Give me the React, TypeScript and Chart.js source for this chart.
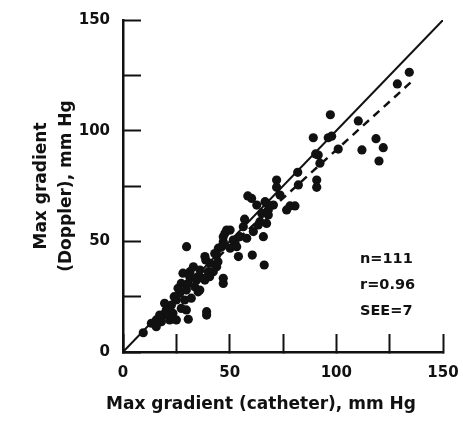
import React, { useEffect, useRef } from "react";
import { Chart, registerables } from "chart.js";

Chart.register(...registerables);

const catheter = [134.2,128.6,110.3,118.6,122.0,112.0,120.0,97.2,89.2,96.2,
97.8,100.9,91.5,92.3,90.3,81.9,90.8,90.8,82.2,72.0,
72.0,73.6,66.6,80.6,78.3,76.7,60.3,62.7,67.3,68.1,
70.5,65.0,64.2,63.4,61.1,56.4,50.2,47.8,54.8,52.5,
47.0,46.3,50.2,44.7,43.9,54.1,65.8,60.6,66.2,38.4,
29.8,47.0,47.0,68.1,67.3,48.6,47.0,51.7,58.0,53.3,
40.8,36.1,40.0,33.0,31.4,42.3,34.5,38.4,28.1,44.5,
27.3,30.5,35.2,37.5,40.6,29.7,26.6,25.0,28.9,32.0,
22.7,20.3,27.3,29.7,18.8,23.4,25.0,21.9,18.0,15.6,
17.2,15.6,13.3,22.7,19.5,25.8,31.3,33.6,36.0,39.2,
39.2,30.6,9.5,38.8,43.9,58.5,24.0,21.0,35.0,43.0,57.0];

const doppler = [126.4,121.1,104.4,96.4,92.3,91.3,86.3,107.2,96.8,96.8,
97.5,91.7,89.0,85.3,89.5,81.2,77.7,74.4,75.5,77.7,
74.4,70.9,67.9,66.0,66.0,64.2,69.4,66.4,67.2,64.2,
66.4,62.7,58.9,57.4,54.4,56.6,55.1,53.6,52.1,49.8,
49.8,47.6,46.9,46.9,43.8,43.1,52.1,43.8,39.3,43.1,
47.6,33.3,31.0,61.9,58.1,55.1,52.1,50.6,51.4,47.6,
40.1,37.0,36.3,38.5,36.3,36.3,32.5,32.5,35.6,40.8,
31.0,31.0,27.2,33.3,34.0,28.0,26.5,23.5,23.5,24.3,
21.2,19.0,19.7,19.0,16.7,17.5,14.5,14.5,13.7,14.5,
16.7,11.4,13.0,16.0,22.0,28.8,34.0,29.5,28.0,18.2,
16.7,14.8,8.7,41.6,38.5,70.5,25.0,18.5,34.0,44.5,60.0];

const identityX = [0, 150];
const identityY = [0, 150];
const regressionX = [25, 135];
const regressionY = [25.8, 121.9];

const statsLines = ["n=111", "r=0.96", "SEE=7"];
const xTitle = "Max gradient (catheter), mm Hg";
const yTitle = ["Max gradient", "(Doppler), mm Hg"];
const axisMin = 0;
const axisMax = 150;
const tickStep = 25;
const labelStep = 50;

const FONT = "'DejaVu Sans', sans-serif";

const textPlugin = {
  id: "textPlugin",
  afterDraw(chart: any) {
    const ctx = chart.ctx;
    const area = chart.chartArea;
    ctx.save();
    ctx.fillStyle = "#111";
    ctx.font = `bold 14.5px ${FONT}`;
    ctx.textAlign = "left";
    ctx.textBaseline = "middle";
    statsLines.forEach((t, i) => {
      ctx.fillText(t, area.left + 237, area.top + 239 + i * 26);
    });
    ctx.font = `bold 17px ${FONT}`;
    ctx.textAlign = "center";
    ctx.fillText(xTitle, area.left + 138, area.bottom + 53);
    ctx.restore();
  },
};

const zeroPad = (s: any) => {
  s.paddingLeft = 0;
  s.paddingRight = 0;
  s.paddingTop = 0;
  s.paddingBottom = 0;
};

export default function App() {
  const ref = useRef<HTMLCanvasElement | null>(null);
  useEffect(() => {
    if (!ref.current) return;
    const points = catheter.map((x, i) => ({ x, y: doppler[i] }));
    const ident = identityX.map((x, i) => ({ x, y: identityY[i] }));
    const reg = regressionX.map((x, i) => ({ x, y: regressionY[i] }));
    const tickCb = (v: any) => (Number(v) % labelStep === 0 ? String(v) : "");
    const chart = new Chart(ref.current, {
      type: "scatter",
      data: {
        datasets: [
          {
            label: "Patients",
            data: points,
            backgroundColor: "#111",
            borderColor: "#111",
            borderWidth: 0,
            pointRadius: 4.6,
          },
          {
            label: "Identity",
            data: ident,
            showLine: true,
            pointRadius: 0,
            borderColor: "#111",
            borderWidth: 2,
          },
          {
            label: "Regression",
            data: reg,
            showLine: true,
            pointRadius: 0,
            borderColor: "#111",
            borderWidth: 2.5,
            borderDash: [8, 6],
          },
        ],
      },
      options: {
        responsive: false,
        animation: false,
        devicePixelRatio: 1,
        layout: { padding: { left: 0, right: 20, top: 20, bottom: 0 } },
        plugins: { legend: { display: false }, tooltip: { enabled: false } },
        scales: {
          x: {
            type: "linear",
            min: axisMin,
            max: axisMax,
            afterFit: (s: any) => { s.height = 84; zeroPad(s); },
            ticks: {
              stepSize: tickStep,
              callback: tickCb,
              color: "#111",
              font: { family: FONT, size: 15, weight: "bold" },
              padding: 30,
              maxRotation: 0,
              autoSkip: false,
            },
            grid: {
              drawOnChartArea: false,
              drawTicks: true,
              tickLength: -18,
              tickColor: "#111",
              tickWidth: 2,
            },
            border: { display: true, color: "#111", width: 2.5 },
            title: { display: false },
          },
          y: {
            type: "linear",
            min: axisMin,
            max: axisMax,
            afterFit: (s: any) => { s.width = 123; zeroPad(s); },
            ticks: {
              stepSize: tickStep,
              callback: tickCb,
              color: "#111",
              font: { family: FONT, size: 15, weight: "bold" },
              padding: 31,
              autoSkip: false,
            },
            grid: {
              drawOnChartArea: false,
              drawTicks: true,
              tickLength: -18,
              tickColor: "#111",
              tickWidth: 2,
            },
            border: { display: true, color: "#111", width: 2.5 },
            title: {
              display: true,
              text: yTitle,
              color: "#111",
              font: { family: FONT, size: 17, weight: "bold", lineHeight: 1.47 },
              padding: { top: 29.5, bottom: 0 },
            },
          },
        },
      },
      plugins: [textPlugin],
    });
    return () => chart.destroy();
  }, []);
  return (
    <div style={{ position: "absolute", left: 0, top: 0, width: 463, height: 436, background: "#fff" }}>
      <canvas ref={ref} width={463} height={436} style={{ width: 463, height: 436 }} />
    </div>
  );
}
